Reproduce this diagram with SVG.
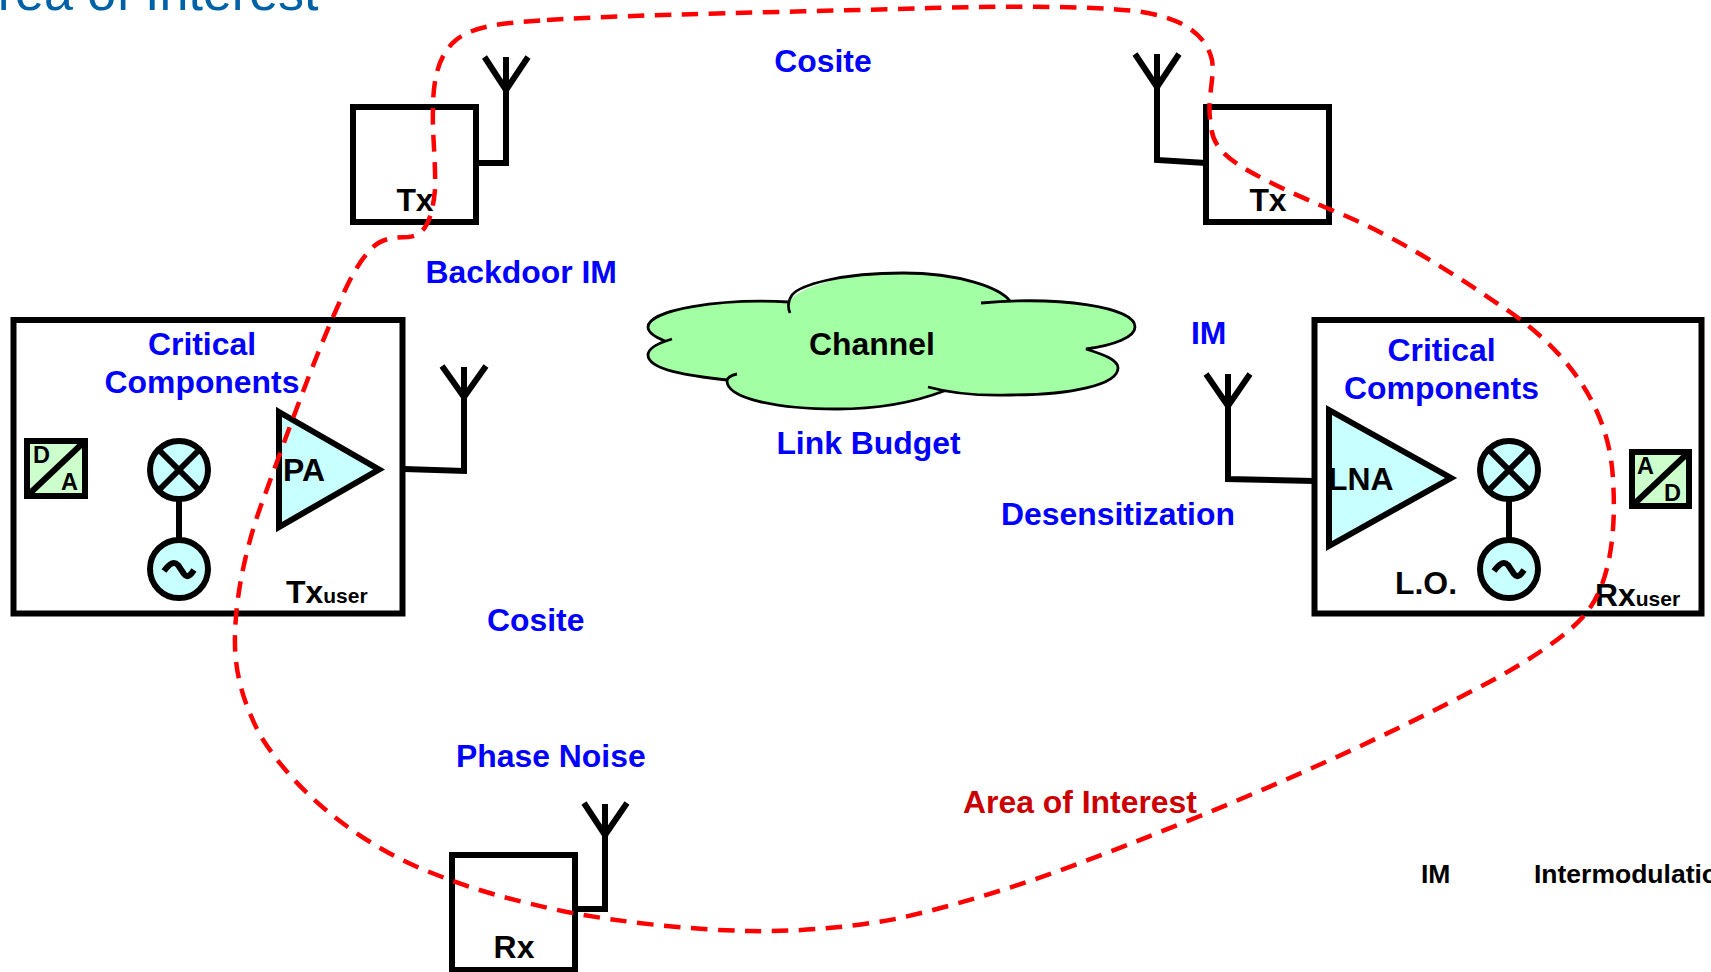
<svg xmlns="http://www.w3.org/2000/svg" width="1711" height="972" viewBox="0 0 1711 972">
<style>
text{font-family:"Liberation Sans",Arial,sans-serif;font-weight:700;font-size:31.9px;fill:#000}
.b{fill:#0000ff}
.m{text-anchor:middle}
.box{fill:#fff;stroke:#000;stroke-width:6}
.ln{fill:none;stroke:#000;stroke-width:6}
.cy{fill:#c8ffff;stroke:#000;stroke-width:6}
.dac{fill:#ccffcc;stroke:#000;stroke-width:6}
.sm{font-size:23.5px}
.sub{font-size:21px}
</style>
<rect width="1711" height="972" fill="#fff"/>
<text id="title" x="-37" y="10" style="font-weight:400;font-size:52px;fill:#0062a6">Area of Interest</text>

<g id="tx-left"><rect class="box" x="353" y="107" width="123" height="115"/><text class="m" x="415" y="211">Tx</text></g>
<g id="tx-right"><rect class="box" x="1206" y="107" width="123" height="115"/><text class="m" x="1268" y="211">Tx</text></g>
<g id="rx-bottom"><rect class="box" x="452" y="855" width="123" height="115"/><text class="m" x="514" y="958">Rx</text></g>

<g id="tx-user">
<rect class="box" x="13.500" y="320" width="389" height="293.500"/>
<text class="b m" x="202" y="355">Critical</text>
<text class="b m" x="202" y="393">Components</text>
<text x="286" y="603">Tx<tspan class="sub">user</tspan></text>
</g>
<g id="da"><rect class="dac" x="27" y="441" width="58" height="55"/><path class="ln" d="M27 496L85 441"/><text class="sm" x="33" y="463">D</text><text class="sm" x="61" y="490">A</text></g>
<g id="pa"><path class="cy" d="M279 412L379 469.500L279 527Z"/><text x="283" y="481">PA</text></g>
<g id="mixer-l"><circle class="cy" cx="179" cy="470" r="29"/><path class="ln" d="M158.500 449.500L199.500 490.500M199.500 449.500L158.500 490.500"/></g>
<g id="osc-l"><circle class="cy" cx="179" cy="569" r="29"/><path class="ln" d="M164 571C170 563 174 561 178 565L184 574C187 578 190 576 194 570"/></g>

<g id="rx-user">
<rect class="box" x="1314.500" y="320" width="387" height="293.500"/>
<text class="b m" x="1441.500" y="361">Critical</text>
<text class="b m" x="1441.500" y="399">Components</text>
<text x="1395" y="594">L.O.</text>
<text x="1595" y="606">Rx<tspan class="sub">user</tspan></text>
</g>
<g id="lna"><path class="cy" d="M1329 410L1451 478L1329 546Z"/><text x="1328" y="490">LNA</text></g>
<g id="mixer-r"><circle class="cy" cx="1509" cy="470" r="29"/><path class="ln" d="M1488.500 449.500L1529.500 490.500M1529.500 449.500L1488.500 490.500"/></g>
<g id="osc-r"><circle class="cy" cx="1509" cy="569" r="29"/><path class="ln" d="M1494 571C1500 563 1504 561 1508 565L1514 574C1517 578 1520 576 1524 570"/></g>
<g id="ad"><rect class="dac" x="1632" y="452" width="57" height="54"/><path class="ln" d="M1632 506L1689 452"/><text class="sm" x="1637" y="474">A</text><text class="sm" x="1664" y="501">D</text></g>

<g id="channel">
<path fill="#a3ffa3" d="M789 302C792 293 830 273 903 273C960 273 1000 288 1010 301C1080 296 1135 310 1135 327C1135 337 1115 345 1086 350C1105 355 1118 360 1118 368C1118 385 1070 395 1010 395C980 396 950 393 944 391C915 402 880 409 837 409C775 409 727 398 727 381C690 376 648 370 648 355C648 349 655 344 665 341C655 337 648 332 648 327C648 310 720 298 789 302Z"/>
<path fill="none" stroke="#000" stroke-width="2.800" d="M790 313C787 306 789 299 792 295C800 285 840 273 903 273C960 273 1000 288 1010 301M981 303C1060 296 1135 307 1135 327C1135 337 1115 345 1086 349C1105 355 1118 360 1118 368C1118 385 1070 395 1010 395C980 396 950 393 928 387M944 391C915 402 880 409 837 409C775 409 727 398 727 381C727 378 731 375 737 374M727 380C690 376 648 370 648 355C648 349 655 344 672 339M665 341C655 337 648 332 648 327C648 310 720 298 789 302"/>
<text class="m" x="872" y="355">Channel</text>
</g>

<g id="connectors">
<path class="ln" d="M479 163H506V57M484.500 57L506 90L528 57"/>
<path class="ln" d="M1206 163L1157 160V54M1135 54L1157 87L1179 54"/>
<path class="ln" d="M404 469L464 471V367M442 366L464 397L486 366"/>
<path class="ln" d="M1314 481L1228 479V374M1206 374L1228 406L1250 374"/>
<path class="ln" d="M577 909H605V804M584 803L605 835L627 803"/>
<path class="ln" d="M179 499V540"/>
<path class="ln" d="M1509 499V540"/>
</g>

<g id="labels">
<text class="b m" x="823" y="72">Cosite</text>
<text class="b" x="425.500" y="283">Backdoor IM</text>
<text class="b m" x="868.500" y="454">Link Budget</text>
<text class="b" x="1191" y="344">IM</text>
<text class="b" x="1001" y="525">Desensitization</text>
<text class="b" x="487" y="631">Cosite</text>
<text class="b" x="456" y="767">Phase Noise</text>
<text x="963" y="813" style="fill:#cc0000">Area of Interest</text>
<text x="1421" y="883" style="font-size:26.500px">IM</text>
<text x="1534" y="883" style="font-size:26.500px">Intermodulation</text>
</g>

<g id="area-boundary">
<path fill="none" stroke="#ff0000" stroke-width="4.500" stroke-dasharray="16.500 10.500" d="M547 20C640 14 800 12 930 8C1010 6 1090 6 1135 11C1175 16 1205 30 1212 60C1215 80 1206 100 1211 125C1212 145 1225 157 1247 170C1270 183 1300 197 1334 211C1400 238 1460 278 1510 312C1570 354 1610 410 1613 480C1616 525 1612 580 1587 612C1570 635 1520 667 1470 692C1380 739 1290 779 1200 816C1100 856 1010 893 900 918C850 928 790 932 750 931C690 930 620 922 567 912C520 902 480 892 437 875C370 850 300 800 260 735C242 700 234 670 235 635C236 590 248 540 263 500C285 440 310 370 333 317C345 290 355 265 372 248C380 240 390 237 408 237C425 236 432 220 435 190C436 165 432 130 433 110C433 80 438 55 456 40C475 25 505 23 547 20Z"/>
</g>
</svg>
